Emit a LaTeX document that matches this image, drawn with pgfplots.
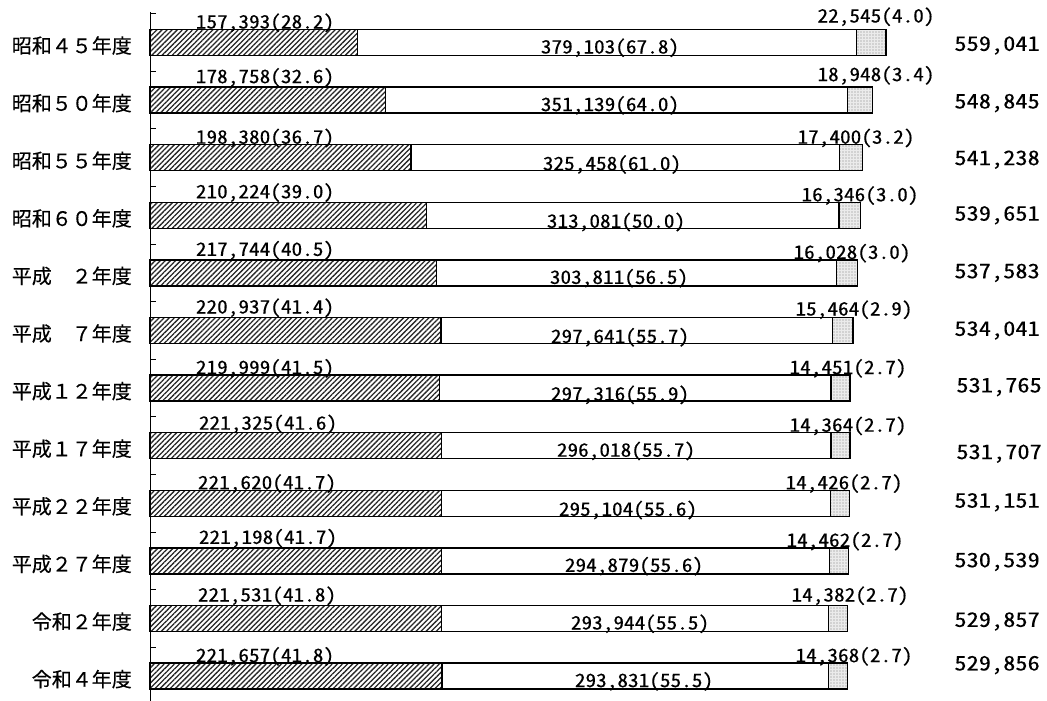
\documentclass[border=0pt]{standalone}
\usepackage{fontspec}
\usepackage{pgfplots}
\pgfplotsset{compat=1.18}
\usetikzlibrary{patterns.meta}
\newfontfamily\jpnum[RawFeature=+hwid, FakeStretch=1.15, FakeBold=0.25]{Noto Sans CJK JP}
\newfontfamily\jptot[RawFeature=+hwid, FakeStretch=1.22, FakeBold=0.15]{Noto Sans CJK JP}
\newfontfamily\jpcat[RawFeature=+fwid, FakeBold=0.3]{Noto Sans CJK JP}
\newcommand{\lab}{\jpnum\fontsize{18.5}{19}\selectfont}
\newcommand{\tot}{\jptot\fontsize{20}{20}\selectfont}
\newcommand{\cat}{\jpcat\fontsize{20}{21}\selectfont}
\tikzset{
  catl/.style={font=\cat, anchor=east, inner sep=0pt},
  labl/.style={font=\lab, anchor=base, inner sep=0pt},
  totl/.style={font=\tot, anchor=east, inner sep=0pt},
}
\begin{document}
\begin{tikzpicture}
\begin{axis}[
  scale only axis,
  width=895.28pt,
  height=689.47pt,
  xmin=0, xmax=680000,
  ymin=-0.53, ymax=11.44,
  y dir=reverse,
  xbar stacked,
  bar width=26pt,
  axis x line=none,
  axis y line*=left,
  ytick={-0.5,0.5,...,10.5},
  yticklabels={},
  tick align=inside,
  major tick length=6pt,
  y axis line style={line width=1pt, black},
  ytick style={line width=1pt, black},
  clip=false,
]
\addplot[draw=black, line width=1.4pt,
  pattern={Lines[angle=45,distance=3.6pt,line width=1.3pt]}, pattern color=black!85]
  coordinates {(157393,0) (178758,1) (198380,2) (210224,3) (217744,4) (220937,5)
               (219999,6) (221325,7) (221620,8) (221198,9) (221531,10) (221657,11)};
\addplot[draw=black, line width=1.4pt, fill=white]
  coordinates {(379103,0) (351139,1) (325458,2) (313081,3) (303811,4) (297641,5)
               (297316,6) (296018,7) (295104,8) (294879,9) (293944,10) (293831,11)};
\addplot[draw=black, line width=1.4pt, fill=black!8,
  postaction={pattern={Dots[distance=3pt,radius=0.55pt]}, pattern color=black!50}]
  coordinates {(22545,0) (18948,1) (17400,2) (16346,3) (16028,4) (15464,5)
               (14451,6) (14364,7) (14426,8) (14462,9) (14382,10) (14368,11)};

\coordinate (ax0) at (axis cs:0,-0.53);
\pgfplotsinvokeforeach{0,...,11}{\coordinate (r#1) at (axis cs:0,#1);}
\end{axis}

% category labels
\node[catl] at ([xshift=-18pt,yshift=-3pt]r0) {昭和45年度};
\node[catl] at ([xshift=-18pt,yshift=-3pt]r1) {昭和50年度};
\node[catl] at ([xshift=-18pt,yshift=-3pt]r2) {昭和55年度};
\node[catl] at ([xshift=-18pt,yshift=-3pt]r3) {昭和60年度};
\node[catl] at ([xshift=-18pt,yshift=-3pt]r4) {平成　2年度};
\node[catl] at ([xshift=-18pt,yshift=-3pt]r5) {平成　7年度};
\node[catl] at ([xshift=-18pt,yshift=-3pt]r6) {平成12年度};
\node[catl] at ([xshift=-18pt,yshift=-3pt]r7) {平成17年度};
\node[catl] at ([xshift=-18pt,yshift=-3pt]r8) {平成22年度};
\node[catl] at ([xshift=-18pt,yshift=-3pt]r9) {平成27年度};
\node[catl] at ([xshift=-18pt,yshift=-3pt]r10) {令和2年度};
\node[catl] at ([xshift=-18pt,yshift=-3pt]r11) {令和4年度};

% hatched segment labels
\node[labl] at ([xshift=115pt,yshift=14pt]r0) {157,393(28.2)};
\node[labl] at ([xshift=115pt,yshift=17pt]r1) {178,758(32.6)};
\node[labl] at ([xshift=115pt,yshift=14pt]r2) {198,380(36.7)};
\node[labl] at ([xshift=115pt,yshift=17pt]r3) {210,224(39.0)};
\node[labl] at ([xshift=115pt,yshift=17pt]r4) {217,744(40.5)};
\node[labl] at ([xshift=115pt,yshift=17pt]r5) {220,937(41.4)};
\node[labl] at ([xshift=115pt,yshift=14pt]r6) {219,999(41.5)};
\node[labl] at ([xshift=118pt,yshift=16pt]r7) {221,325(41.6)};
\node[labl] at ([xshift=117pt,yshift=14pt]r8) {221,620(41.7)};
\node[labl] at ([xshift=118pt,yshift=17pt]r9) {221,198(41.7)};
\node[labl] at ([xshift=117pt,yshift=17pt]r10) {221,531(41.8)};
\node[labl] at ([xshift=115pt,yshift=14pt]r11) {221,657(41.8)};

% white segment labels
\node[labl] at ([xshift=460pt,yshift=-11pt]r0) {379,103(67.8)};
\node[labl] at ([xshift=460pt,yshift=-11pt]r1) {351,139(64.0)};
\node[labl] at ([xshift=462pt,yshift=-12.5pt]r2) {325,458(61.0)};
\node[labl] at ([xshift=466pt,yshift=-12.5pt]r3) {313,081(50.0)};
\node[labl] at ([xshift=469pt,yshift=-11pt]r4) {303,811(56.5)};
\node[labl] at ([xshift=470pt,yshift=-12.5pt]r5) {297,641(55.7)};
\node[labl] at ([xshift=470pt,yshift=-12.5pt]r6) {297,316(55.9)};
\node[labl] at ([xshift=476pt,yshift=-11pt]r7) {296,018(55.7)};
\node[labl] at ([xshift=478pt,yshift=-12.5pt]r8) {295,104(55.6)};
\node[labl] at ([xshift=484pt,yshift=-11pt]r9) {294,879(55.6)};
\node[labl] at ([xshift=490pt,yshift=-11pt]r10) {293,944(55.5)};
\node[labl] at ([xshift=494pt,yshift=-11pt]r11) {293,831(55.5)};

% dotted segment labels
\node[labl] at ([xshift=726pt,yshift=20pt]r0) {22,545(4.0)};
\node[labl] at ([xshift=726pt,yshift=19pt]r1) {18,948(3.4)};
\node[labl] at ([xshift=706pt,yshift=14pt]r2) {17,400(3.2)};
\node[labl] at ([xshift=710pt,yshift=14pt]r3) {16,346(3.0)};
\node[labl] at ([xshift=702pt,yshift=14pt]r4) {16,028(3.0)};
\node[labl] at ([xshift=704pt,yshift=15pt]r5) {15,464(2.9)};
\node[labl] at ([xshift=698pt,yshift=14pt]r6) {14,451(2.7)};
\node[labl] at ([xshift=698pt,yshift=14pt]r7) {14,364(2.7)};
\node[labl] at ([xshift=694pt,yshift=14pt]r8) {14,426(2.7)};
\node[labl] at ([xshift=695pt,yshift=14pt]r9) {14,462(2.7)};
\node[labl] at ([xshift=700pt,yshift=17pt]r10) {14,382(2.7)};
\node[labl] at ([xshift=704pt,yshift=14pt]r11) {14,368(2.7)};

% totals
\node[totl] at ([xshift=890pt,yshift=-3pt]r0) {559,041};
\node[totl] at ([xshift=890pt,yshift=-3pt]r1) {548,845};
\node[totl] at ([xshift=890pt,yshift=-2pt]r2) {541,238};
\node[totl] at ([xshift=890pt,yshift=0pt]r3) {539,651};
\node[totl] at ([xshift=890pt,yshift=0pt]r4) {537,583};
\node[totl] at ([xshift=890pt,yshift=0pt]r5) {534,041};
\node[totl] at ([xshift=892pt,yshift=1pt]r6) {531,765};
\node[totl] at ([xshift=892pt,yshift=-8pt]r7) {531,707};
\node[totl] at ([xshift=890pt,yshift=1pt]r8) {531,151};
\node[totl] at ([xshift=890pt,yshift=-1pt]r9) {530,539};
\node[totl] at ([xshift=890pt,yshift=-3pt]r10) {529,857};
\node[totl] at ([xshift=890pt,yshift=11pt]r11) {529,856};

\pgfresetboundingbox
\path[use as bounding box] (ax0) ++(-150pt,12pt) rectangle ++(1047pt,-701pt);
\end{tikzpicture}
\end{document}
